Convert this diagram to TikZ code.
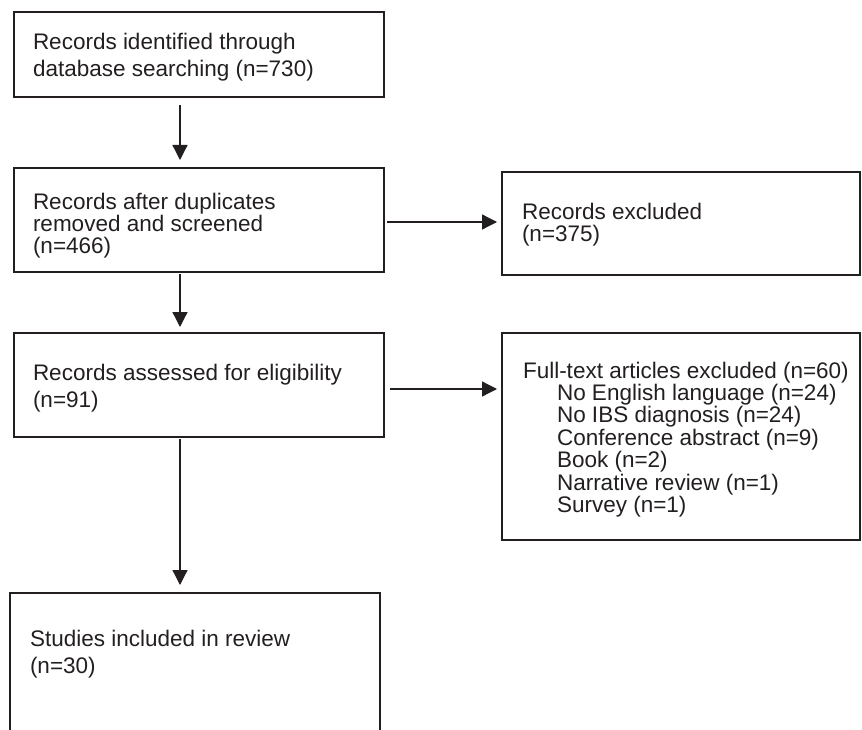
\documentclass[tikz,border=0pt]{standalone}
\usepackage{fontspec}
\setmainfont{Liberation Sans}
\usetikzlibrary{arrows.meta}
\definecolor{ink}{HTML}{231F20}
\newcommand{\stacklines}[2]{\vtop{\baselineskip=#1\relax\lineskiplimit=-100pt\lineskip=0pt #2}}
\begin{document}
\begin{tikzpicture}[x=1bp,y=-1bp,
  box/.style={draw=ink, line width=2.5bp, rectangle, inner sep=0pt, outer sep=0pt, anchor=north west},
  txt/.style={anchor=base west, inner sep=0pt, outer sep=0pt, text=ink, font=\fontsize{22.5bp}{26bp}\selectfont},
  arr/.style={draw=ink, line width=1.3bp, -{Triangle[length=15bp,width=15bp]}}]
\useasboundingbox (0,0) rectangle (862,730);
\clip (0,0) rectangle (862,730);
% boxes
\node[box, minimum width=370bp, minimum height=85bp]  (b1) at (14,12) {};
\node[box, minimum width=370bp, minimum height=104bp] (b2) at (14,168) {};
\node[box, minimum width=358bp, minimum height=103bp] (b3) at (502,172) {};
\node[box, minimum width=370bp, minimum height=104bp] (b4) at (14,333) {};
\node[box, minimum width=358bp, minimum height=207bp] (b5) at (502,333) {};
\node[box, minimum width=370bp, minimum height=170bp] (b6) at (10,593) {};
% texts
\node[txt] (t1) at (33,50) {\stacklines{27bp}{\hbox{Records identified through}\hbox{database searching (n=730)}}};
\node[txt] (t2) at (33,209) {\stacklines{22bp}{\hbox{Records after duplicates}\hbox{removed and screened}\hbox{(n=466)}}};
\node[txt] (t3) at (522,219) {\stacklines{22bp}{\hbox{Records excluded}\hbox{(n=375)}}};
\node[txt] (t4) at (33,380) {\stacklines{27bp}{\hbox{Records assessed for eligibility}\hbox{(n=91)}}};
\node[txt] (t5) at (523,378) {\stacklines{22.4bp}{\hbox{Full-text articles excluded (n=60)}\hbox{\hspace{34bp}No English language (n=24)}\hbox{\hspace{34bp}No IBS diagnosis (n=24)}\hbox{\hspace{34bp}Conference abstract (n=9)}\hbox{\hspace{34bp}Book (n=2)}\hbox{\hspace{34bp}Narrative review (n=1)}\hbox{\hspace{34bp}Survey (n=1)}}};
\node[txt] (t6) at (30,646) {\stacklines{27bp}{\hbox{Studies included in review}\hbox{(n=30)}}};
% connectors
\coordinate (ax) at (180,0);
\coordinate (ay1) at (0,222);
\coordinate (ay2) at (0,389);
\draw[arr, shorten <=8bp, shorten >=8bp] (b1.south -| ax) -- (b2.north -| ax);
\draw[arr, shorten <=2bp, shorten >=6bp] (b2.south -| ax) -- (b4.north -| ax);
\draw[arr, shorten <=2bp, shorten >=8bp] (b4.south -| ax) -- (b6.north -| ax);
\draw[arr, shorten <=3bp, shorten >=5bp] (b2.east |- ay1) -- (b3.west |- ay1);
\draw[arr, shorten <=6bp, shorten >=5bp] (b4.east |- ay2) -- (b5.west |- ay2);
\end{tikzpicture}
\end{document}
